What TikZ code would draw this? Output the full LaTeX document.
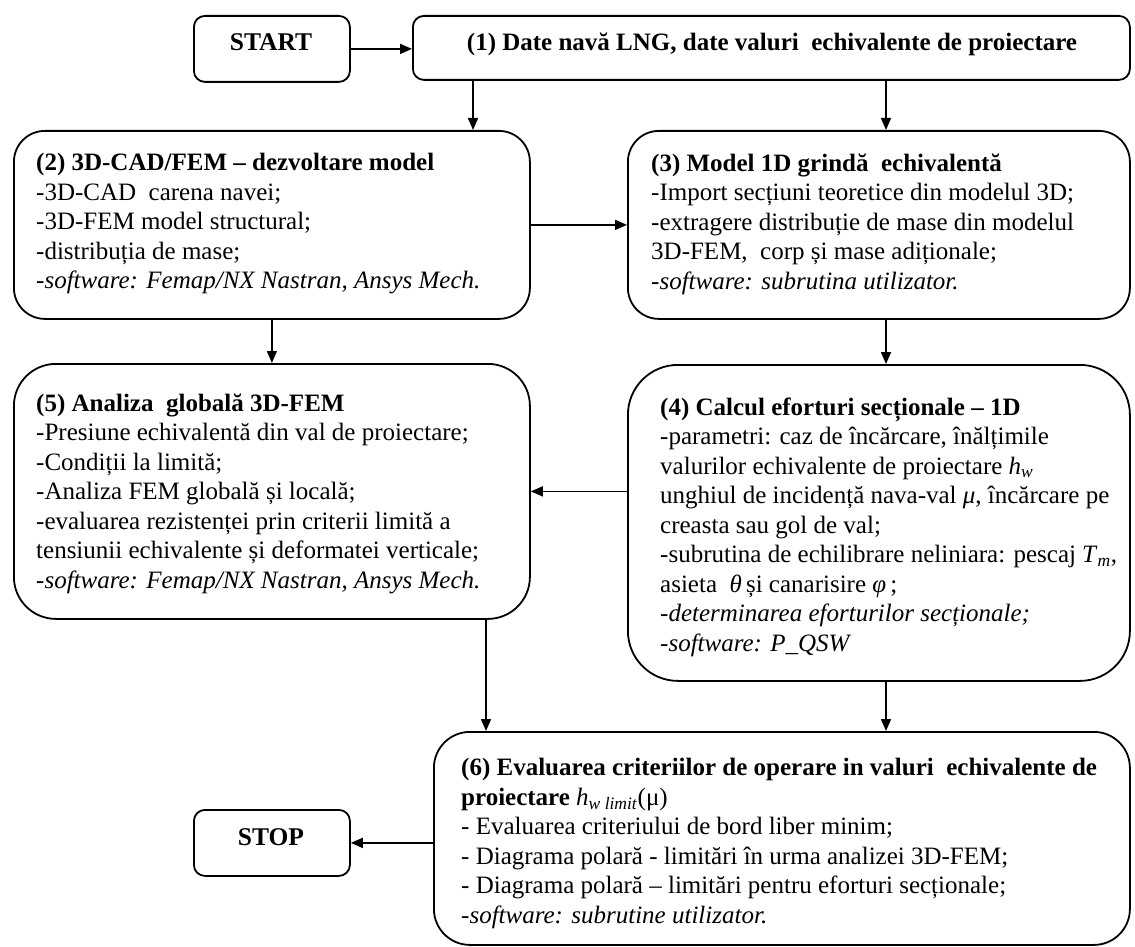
\documentclass[tikz,border=0pt]{standalone}
\usepackage{fontspec}
\setmainfont{Liberation Serif}
\usetikzlibrary{arrows.meta}
\begin{document}
\begin{tikzpicture}[x=1pt,y=-1pt,
  bx/.style={draw, line width=1.8pt, inner sep=0pt, anchor=north west, rectangle},
  txt/.style={inner sep=0pt, anchor=north west, align=left, font=\fontsize{25}{29.5}\selectfont},
  ttl/.style={inner sep=0pt, anchor=base, font=\fontsize{25.5}{29.5}\selectfont\bfseries},
  arr/.style={line width=1.5pt, -{Triangle[length=12pt,width=10pt]}}]
\useasboundingbox (0,0) rectangle (1135,947);

% boxes
\node[bx, rounded corners=11pt, minimum width=156pt, minimum height=66pt] (start) at (193,15) {};
\node[bx, rounded corners=11pt, minimum width=717pt, minimum height=64pt] (b1) at (412,15) {};
\node[bx, rounded corners=31pt, minimum width=516pt, minimum height=188pt] (b2) at (13,130) {};
\node[bx, rounded corners=31pt, minimum width=502pt, minimum height=188pt] (b3) at (627,130) {};
\node[bx, rounded corners=42pt, minimum width=516pt, minimum height=255pt] (b5) at (13,363) {};
\node[bx, rounded corners=50pt, minimum width=502pt, minimum height=316pt] (b4) at (627,364) {};
\node[bx, rounded corners=36pt, minimum width=696pt, minimum height=213pt] (b6) at (433,731) {};
\node[bx, rounded corners=11pt, minimum width=156pt, minimum height=66pt] (stop) at (193,809) {};

% texts
\node[ttl] (tstart) at (271,51) {START};
\node[ttl, font=\fontsize{25}{29.5}\selectfont\bfseries] (t1) at (772,51) {(1) Date navă LNG, date valuri\ \ echivalente de proiectare};
\node[ttl] (tstop) at (271,845) {STOP};

\node[txt] (t2) at (36,153.4) {\textbf{(2) 3D-CAD/FEM – dezvoltare model}\\
-3D-CAD\ \ carena navei;\\
-3D-FEM model structural;\\
-distribuția de mase;\\
-\textit{software: Femap/NX Nastran, Ansys Mech.}};

\node[txt] (t3) at (651,153.4) {\textbf{(3) Model 1D grindă\ \ echivalentă}\\
-Import secțiuni teoretice din modelul 3D;\\
-extragere distribuție de mase din modelul\\
3D-FEM,\ \ corp și mase adiționale;\\
-\textit{software: subrutina utilizator.}};

\node[txt] (t5) at (36,393.4) {\textbf{(5) Analiza\ \ globală 3D-FEM}\\
-Presiune echivalentă din val de proiectare;\\
-Condiții la limită;\\
-Analiza FEM globală și locală;\\
-evaluarea rezistenței prin criterii limită a\\
tensiunii echivalente și deformatei verticale;\\
-\textit{software: Femap/NX Nastran, Ansys Mech.}};

\node[txt] (t4) at (660,397.4) {\textbf{(4) Calcul eforturi secționale – 1D}\\
-parametri: caz de încărcare, înălțimile\\
valurilor echivalente de proiectare \textit{h}\textsubscript{\textit{w}}\\
unghiul de incidență nava-val \textit{μ}, încărcare pe\\
creasta sau gol de val;\\
-subrutina de echilibrare neliniara: pescaj \textit{T}\textsubscript{\textit{m}},\\
asieta\ \ \textit{θ}\,și canarisire \textit{φ}\,;\\
\textit{-determinarea eforturilor secționale;}\\
-\textit{software: P\_QSW}};

\node[txt] (t6) at (461,758.4) {\textbf{(6) Evaluarea criteriilor de operare in valuri\ \ echivalente de}\\
\textbf{proiectare} \textit{h}\textsubscript{\textit{w limit}}(μ)\\
- Evaluarea criteriului de bord liber minim;\\
- Diagrama polară - limitări în urma analizei 3D-FEM;\\
- Diagrama polară – limitări pentru eforturi secționale;\\
-\textit{software: subrutine utilizator.}};

% column coordinates
\coordinate (c1) at (473,0);
\coordinate (c2) at (886,0);
\coordinate (c3) at (486,0);

% connectors
\draw[arr] (start.east) -- (start.east -| b1.west);
\draw[arr] (b1.south -| c1) -- (b2.north -| c1);
\draw[arr] (b1.south -| c2) -- (b3.north -| c2);
\draw[arr] (b2.east) -- (b2.east -| b3.west);
\draw[arr] (b2.south) -- (b5.north);
\draw[arr] (b3.south -| c2) -- (b4.north -| c2);
\draw[arr] (b5.east -| b4.west) -- (b5.east);
\draw[arr] (b5.south -| c3) -- (b6.north -| c3);
\draw[arr] (b4.south -| c2) -- (b6.north -| c2);
\draw[arr] (stop.east -| b6.west) -- (stop.east);
\end{tikzpicture}
\end{document}
